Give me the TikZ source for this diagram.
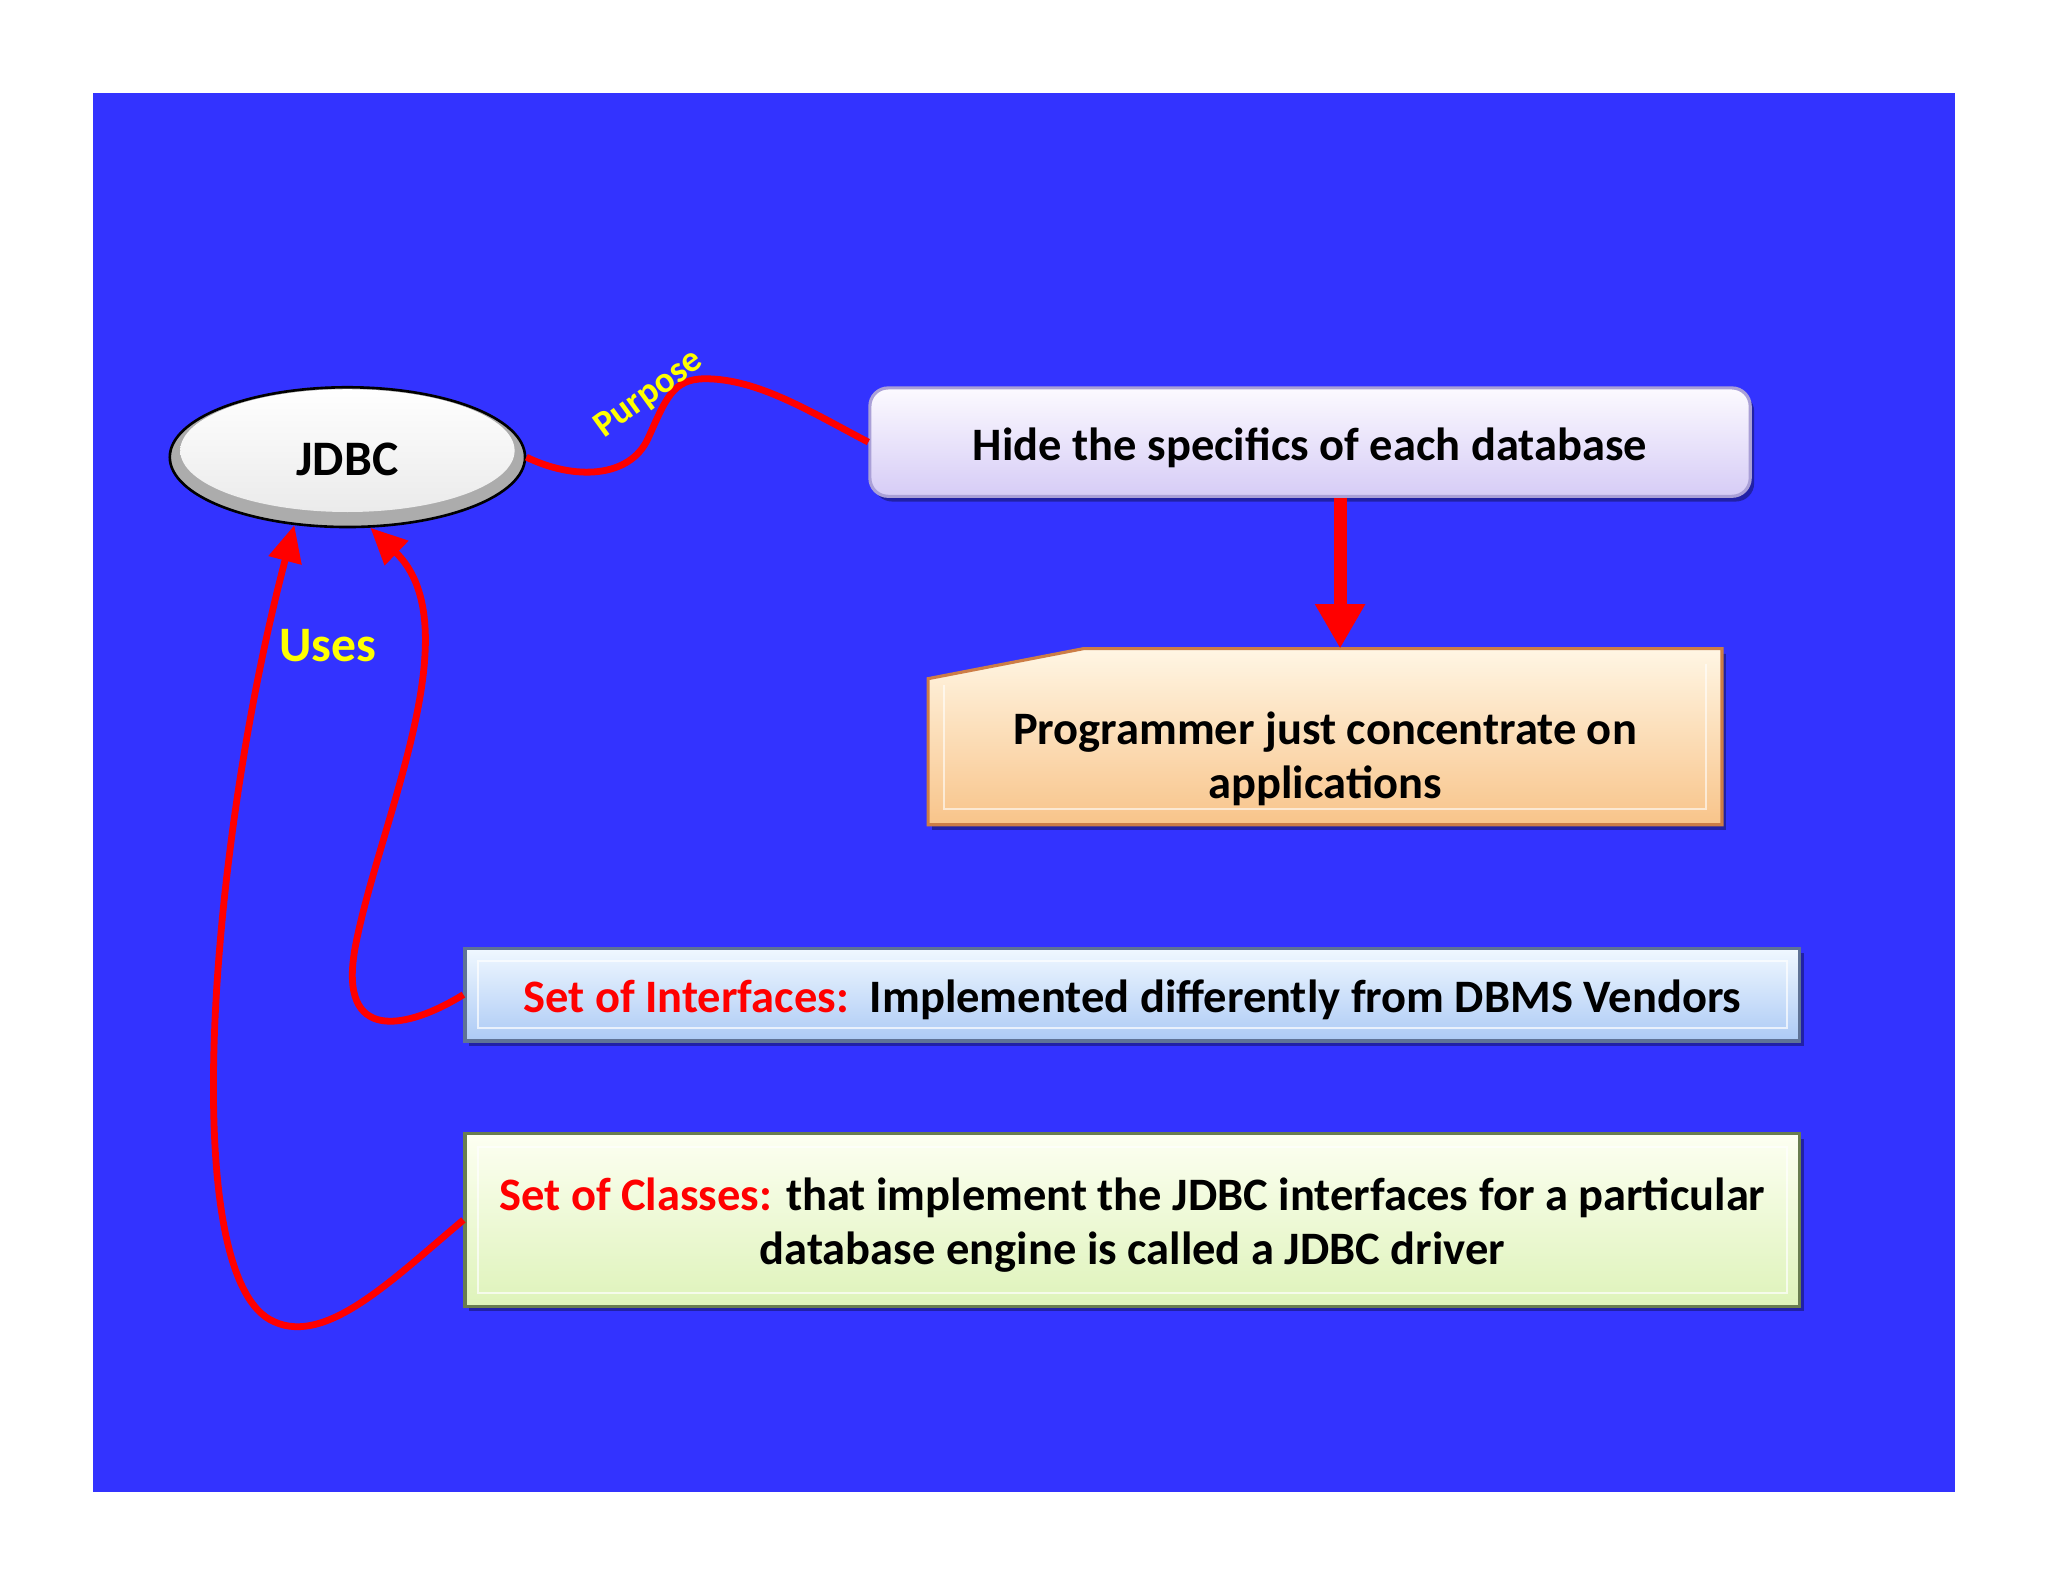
\documentclass[tikz,border=0pt]{standalone}
\usepackage{fontspec}
\setmainfont{Carlito}
\usetikzlibrary{shapes.geometric,arrows.meta,shadows,calc}
\definecolor{bg}{RGB}{51,51,255}
\definecolor{lavtop}{RGB}{252,250,255}
\definecolor{lavbot}{RGB}{214,204,246}
\definecolor{lavborder}{RGB}{170,160,215}
\definecolor{progtop}{RGB}{255,246,228}
\definecolor{progbot}{RGB}{248,196,138}
\definecolor{progborder}{RGB}{205,125,70}
\definecolor{intop}{RGB}{240,248,255}
\definecolor{inbot}{RGB}{172,202,245}
\definecolor{inborder}{RGB}{95,115,150}
\definecolor{cltop}{RGB}{253,255,242}
\definecolor{clbot}{RGB}{222,243,186}
\definecolor{clborder}{RGB}{105,125,80}
\definecolor{ylw}{RGB}{255,255,0}
\tikzset{
  txt/.style={align=center, inner sep=0pt, text=black},
  shad/.style={drop shadow={shadow xshift=1.5pt, shadow yshift=-2pt, opacity=0.35, fill=black}},
  bevel/.style={path picture={
     \draw[white, opacity=0.7, line width=0.8pt]
       ([shift={(5pt,-5pt)}]path picture bounding box.north west) rectangle
       ([shift={(-5pt,5pt)}]path picture bounding box.south east);}},
  hidebox/.style={rectangle, rounded corners=7pt, draw=lavborder, line width=1.2pt,
     top color=lavtop, bottom color=lavbot, shad, inner sep=0pt},
  flatbox/.style={rectangle, draw, line width=1.2pt, shad, bevel, inner sep=0pt},
  redline/.style={draw=red, line width=2.6pt},
  usesarrow/.style={redline, -{Triangle[width=12.5pt,length=14pt]}},
  bigarrow/.style={draw=red, line width=5pt, -{Triangle[width=18pt,length=17pt]}},
  lbl/.style={text=ylw, inner sep=0pt},
}
\begin{document}
\begin{tikzpicture}[x=0.5pt,y=-0.5pt, font=\bfseries\fontsize{17.8}{21}\selectfont]
\useasboundingbox (0,0) rectangle (1568,1214);
\fill[white] (0,0) rectangle (1568,1214);
\fill[bg] (71,71) rectangle (1497,1142);

% JDBC ellipse
\node[ellipse, draw=black, line width=1pt, fill=gray!65, minimum width=136pt, minimum height=53.5pt,
      inner sep=0pt,
      path picture={\shade[top color=white, bottom color=gray!18]
        ([yshift=2.5pt]path picture bounding box.center) ellipse [x radius=64pt, y radius=23.5pt];}]
      (jdbc) at (266,350) {};
\node[txt, font=\bfseries\fontsize{19}{21}\selectfont] (jdbctext) at (266,352) {JDBC};

% Hide box
\node[hidebox, minimum width=337pt, minimum height=41.5pt] (hide) at (1003,338.5) {};
\node[txt] (hidetext) at ([yshift=-2pt]hide.center) {Hide the specifics of each database};

% Programmer box (snipped corner)
\node[rectangle, minimum width=303.5pt, minimum height=67pt, inner sep=0pt] (prog) at (1014.5,564) {};
\path[top color=progtop, bottom color=progbot, draw=progborder, line width=1.2pt, shad]
  ([yshift=-11.5pt]prog.north west) -- ([xshift=59.5pt]prog.north west) -- (prog.north east)
  -- (prog.south east) -- (prog.south west) -- cycle;
\draw[white, opacity=0.6, line width=0.8pt]
  ([shift={(6pt,-14pt)}]prog.north west) -- ([shift={(6pt,6pt)}]prog.south west)
  -- ([shift={(-6pt,6pt)}]prog.south east) -- ([shift={(-6pt,-6pt)}]prog.north east);
\node[txt] (progtext) at ([yshift=-8.5pt]prog.center) {Programmer just concentrate on\\applications};

% Interfaces box
\node[flatbox, draw=inborder, top color=intop, bottom color=inbot,
      minimum width=511pt, minimum height=35.5pt] (inter) at (867,761.5) {};
\node[txt] (intertext) at ([yshift=-2pt]inter.center)
  {\textcolor{red}{Set of Interfaces:}\ \ Implemented differently from DBMS Vendors};

% Classes box
\node[flatbox, draw=clborder, top color=cltop, bottom color=clbot,
      minimum width=511pt, minimum height=66pt] (classes) at (867,934) {};
\node[txt] (classestext) at ([yshift=-2pt]classes.center)
  {\textcolor{red}{Set of Classes:} that implement the JDBC interfaces for a particular\\
   database engine is called a JDBC driver};

% Purpose connector
\path[redline] (jdbc.east) .. controls (440,368) and (482,366) .. (496,336)
  .. controls (510,305) and (515,290) .. (540,290)
  .. controls (580,290) and (620,315) .. (hide.west);
\node[lbl, rotate=36, font=\bfseries\fontsize{14}{16}\selectfont] (purpose) at (497,302) {Purpose};

% Hide -> Programmer
\draw[bigarrow] ([xshift=11.5pt]hide.south) -- ([xshift=11.5pt]hide.south |- prog.north);

% Uses arrows
\draw[usesarrow] (inter.west) .. controls (312,788) and (258,800) .. (272,725)
  .. controls (290,630) and (362,480) .. (jdbc.288);
\draw[usesarrow] (classes.west) .. controls (300,980) and (250,1030) .. (210,1012)
  .. controls (135,980) and (160,650) .. (jdbc.232);
\node[lbl, font=\bfseries\fontsize{19}{21}\selectfont] (uses) at (251,494) {Uses};
\end{tikzpicture}
\end{document}
